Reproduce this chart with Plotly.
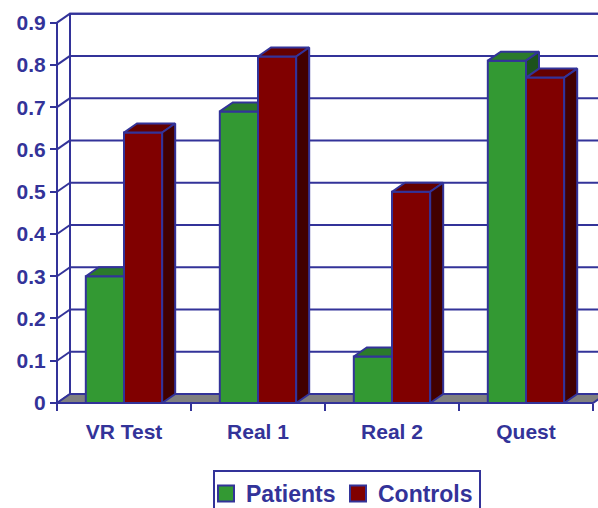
import plotly.graph_objects as go

# ---- data -------------------------------------------------------------
categories = ["VR Test", "Real 1", "Real 2", "Quest"]
patients = [0.30, 0.69, 0.11, 0.81]
controls = [0.64, 0.82, 0.50, 0.77]
y_ticks = [0, 0.1, 0.2, 0.3, 0.4, 0.5, 0.6, 0.7, 0.8, 0.9]

# ---- styling ----------------------------------------------------------
NAVY = "#333399"
FONT = "Liberation Sans, Arial, sans-serif"
series = [
    ("Patients", patients, "#339933", "#2b7a2b", "#1c521c"),
    ("Controls", controls, "#800000", "#640000", "#420000"),
]

# page geometry (pixels)
W, H = 598, 508
L, R, T, B = 40, 598, 8, 412          # plot area edges
X0_PX, Y0_PX = 57, 403                 # front corner of the floor
PX_PER_CAT = 134.0                     # one category slot
PX_PER_UNIT = 422.6                    # one unit of value
DEPTH_X_PX, DEPTH_Y_PX = 13, 9         # 3-D depth offset

xmin = -0.5 - (X0_PX - L) / PX_PER_CAT
xmax = -0.5 + (R - X0_PX) / PX_PER_CAT
ymin = -(B - Y0_PX) / PX_PER_UNIT
ymax = (Y0_PX - T) / PX_PER_UNIT
dx = DEPTH_X_PX / PX_PER_CAT
dy = DEPTH_Y_PX / PX_PER_UNIT
bar_w = 0.285

n = len(categories)
top_v = y_ticks[-1]
fig = go.Figure()


def poly(xs, ys, fill, width=2):
    fig.add_trace(go.Scatter(
        x=list(xs) + [xs[0]], y=list(ys) + [ys[0]], mode="lines",
        fill="toself", fillcolor=fill,
        line=dict(color=NAVY, width=width), showlegend=False, hoverinfo="skip"))


def seg(xs, ys, width=2):
    fig.add_trace(go.Scatter(
        x=xs, y=ys, mode="lines", line=dict(color=NAVY, width=width),
        showlegend=False, hoverinfo="skip"))


# back wall with its gridlines
left = -0.5
poly([left + dx, xmax + 1, xmax + 1, left + dx],
     [dy, dy, top_v + dy, top_v + dy], "white")
for v in y_ticks[1:]:
    seg([left + dx, xmax + 1], [v + dy, v + dy])
# side wall: back edge, front axis and the slanted tick links
seg([left + dx, left + dx], [dy, top_v + dy])
seg([left, left], [0, top_v])
for v in y_ticks:
    seg([left, left + dx], [v, v + dy])

# floor
right = n - 0.5
poly([left, right, right + dx, left + dx], [0, 0, dy, dy], "#808080")

# 3-D columns
for i in range(n):
    for j, (name, vals, c_front, c_top, c_side) in enumerate(series):
        v = vals[i]
        x0 = i - bar_w + j * bar_w
        x1 = x0 + bar_w
        poly([x0, x1, x1, x0], [0, 0, v, v], c_front)
        poly([x0, x1, x1 + dx, x0 + dx], [v, v, v + dy, v + dy], c_top)
        poly([x1, x1 + dx, x1 + dx, x1], [0, dy, v + dy, v], c_side)

# legend entries
for name, vals, c_front, _, _ in series:
    fig.add_trace(go.Scatter(
        x=[None], y=[None], mode="markers", name=name,
        marker=dict(symbol="square", size=16, color=c_front,
                    line=dict(color=NAVY, width=2))))

plot_w = R - L
plot_h = B - T
fig.update_layout(
    width=W, height=H,
    margin=dict(l=L, r=W - R, t=T, b=H - B, pad=0, autoexpand=False),
    paper_bgcolor="white", plot_bgcolor="white",
    font=dict(family=FONT, color=NAVY, size=20, weight="bold"),
    showlegend=True,
    legend=dict(
        orientation="h", x=(213 - L) / plot_w, y=-(470 - B) / plot_h,
        xanchor="left", yanchor="top",
        bordercolor=NAVY, borderwidth=2, bgcolor="white",
        font=dict(family=FONT, size=23, color=NAVY, weight="bold"),
        indentation=-9, entrywidth=96, entrywidthmode="pixels",
        itemclick=False, itemdoubleclick=False,
    ),
    xaxis=dict(
        range=[xmin, xmax], anchor="free", position=(B - Y0_PX) / plot_h,
        showgrid=False, zeroline=False, showline=False,
        tickmode="array", tickvals=list(range(n)), ticktext=categories,
        ticks="", ticklabelstandoff=14,
        tickfont=dict(family=FONT, size=21, color=NAVY, weight="bold"),
        minor=dict(tickmode="array",
                   tickvals=[k - 0.5 for k in range(n + 1)],
                   ticks="outside", ticklen=7, tickwidth=2, tickcolor=NAVY,
                   showgrid=False),
        fixedrange=True,
    ),
    yaxis=dict(
        range=[ymin, ymax], anchor="free", position=(X0_PX - L) / plot_w,
        showgrid=False, zeroline=False, showline=False,
        tickmode="array", tickvals=y_ticks,
        ticktext=[f"{v:g}" for v in y_ticks],
        ticks="outside", ticklen=7, tickwidth=2, tickcolor=NAVY,
        tickfont=dict(family=FONT, size=21, color=NAVY, weight="bold"),
        fixedrange=True,
    ),
)

fig.write_html("out.html")
